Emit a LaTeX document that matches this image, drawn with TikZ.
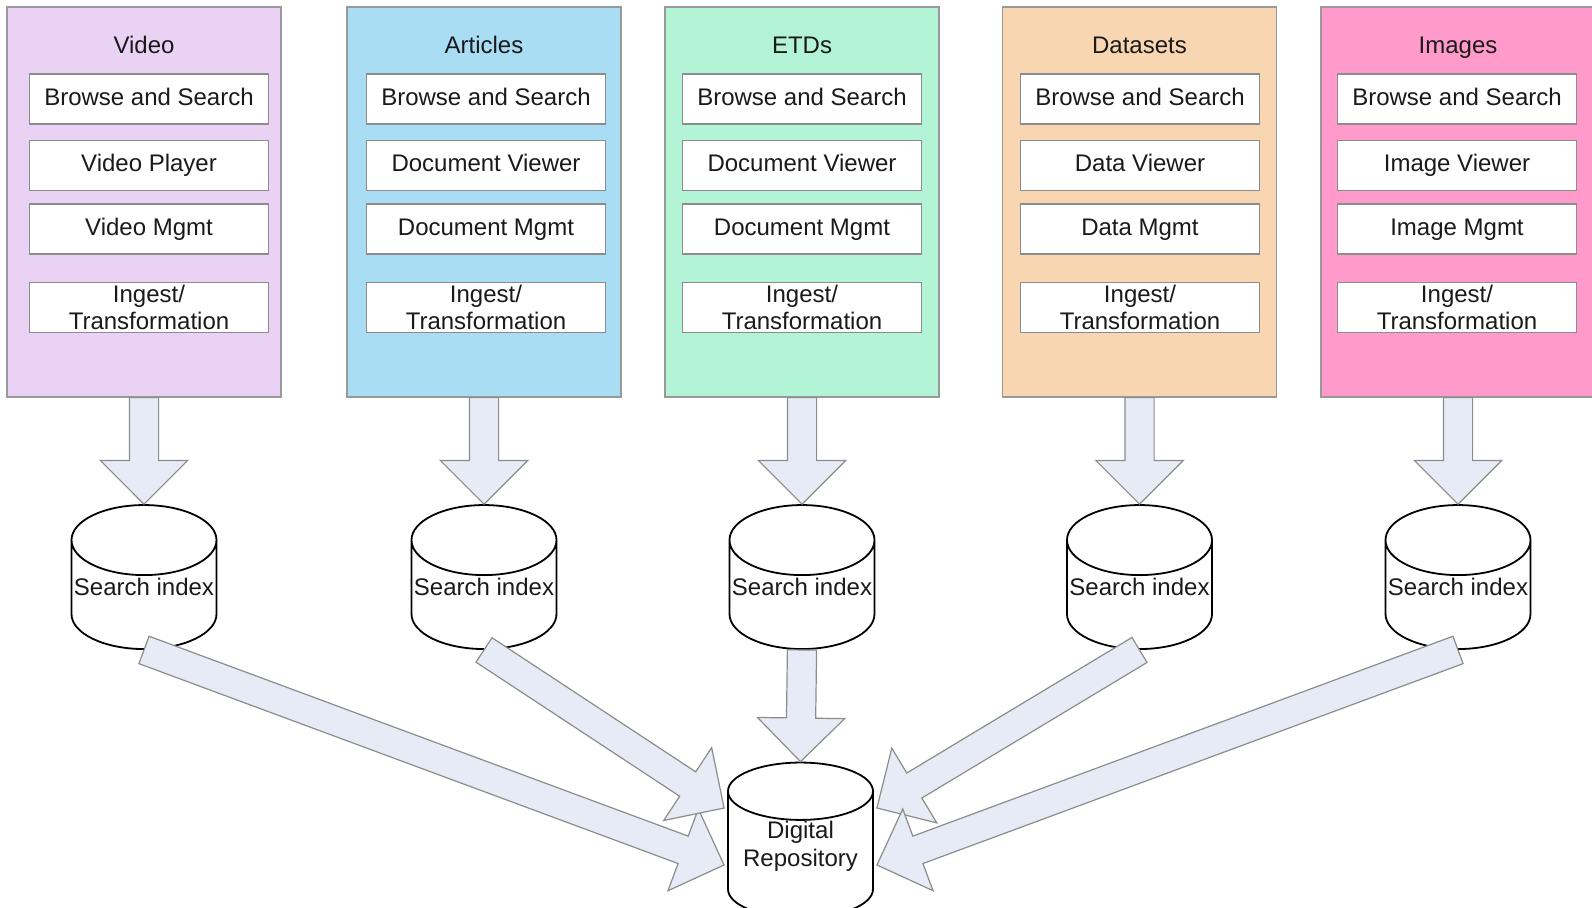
\documentclass[tikz,border=0pt]{standalone}
\usepackage{fontspec}
\setmainfont{Liberation Sans}
\usetikzlibrary{shapes.geometric,shapes.arrows,calc}

\definecolor{videoc}{HTML}{E9D2F4}
\definecolor{artc}{HTML}{A9DDF4}
\definecolor{etdc}{HTML}{B3F4D6}
\definecolor{datac}{HTML}{F8D6B2}
\definecolor{imgc}{HTML}{FF9ACB}
\definecolor{flowc}{HTML}{E6EBF5}
\definecolor{ink}{HTML}{1A1A1A}

\tikzset{
  panel/.style={draw=black!40, line width=0.6pt, minimum width=137pt, minimum height=195pt, inner sep=0pt},
  head/.style={anchor=base, text=ink, font=\fontsize{12}{14}\selectfont},
  part/.style={draw=black!45, line width=0.6pt, fill=white, minimum width=119.5pt, minimum height=25pt,
    inner sep=0pt, align=center, text=ink, font=\fontsize{12}{13.5}\selectfont},
  line/.style={text height=8.6pt, text depth=2.5pt},
  store/.style={cylinder, shape border rotate=90, aspect=0.5, draw, line width=0.9pt, fill=white,
    minimum width=72.5pt, minimum height=72pt, inner sep=0pt, align=center, text=ink,
    font=\fontsize{12}{14}\selectfont},
  flow/.style={single arrow, draw=black!45, line width=0.6pt, fill=flowc, minimum width=43pt,
    single arrow head extend=14.5pt, inner xsep=0pt, inner ysep=7pt, outer sep=0pt, anchor=tail}
}

% block arrow between two points
\newcommand\fatarrow[2]{%
  \path let \p1=($(#2)-(#1)$), \n1={atan2(\y1,\x1)}, \n2={veclen(\x1,\y1)} in
    node[flow, minimum height=\n2, rotate=\n1] at (#1) {};}

\begin{document}
\begin{tikzpicture}[x=0.5pt, y=-0.5pt]
  \useasboundingbox[fill=white] (0,0) rectangle (1592,907);

  % one column per collection
  \foreach \id/\cx/\bx/\col/\title/\view/\mgmt in {
      video/144/149/videoc/Video/Video Player/Video Mgmt,
      art/484/486/artc/Articles/Document Viewer/Document Mgmt,
      etd/802/802/etdc/ETDs/Document Viewer/Document Mgmt,
      data/1139.5/1140/datac/Datasets/Data Viewer/Data Mgmt,
      img/1458/1457/imgc/Images/Image Viewer/Image Mgmt} {
    \node[panel, fill=\col] (\id) at (\cx,202) {};
    \node[head] (\id-title) at (\cx,53) {\title};
    \node[part, line] (\id-browse) at (\bx,99) {Browse and Search};
    \node[part, line] (\id-view) at (\bx,165.5) {\view};
    \node[part, line] (\id-mgmt) at (\bx,229) {\mgmt};
    \node[part] (\id-ingest) at (\bx,307.5) {Ingest/\\Transformation};
    \node[store, text depth=8pt] (\id-index) at (\cx,595) {Search index};
    \fatarrow{\id.south}{\id-index.north}
  }

  \node[store, text depth=11.5pt] (repo) at (800.5,855) {Digital\\Repository};

  % docking points on the repository
  \coordinate (dockNW) at ($(repo.west)+(-3,-47)$);
  \coordinate (dockSW) at ($(repo.west)+(-3,10)$);
  \coordinate (dockNE) at ($(repo.east)+(3,-47)$);
  \coordinate (dockSE) at ($(repo.east)+(3,10)$);

  \fatarrow{etd-index.south}{repo.north}
  \fatarrow{video-index.south}{dockSW}
  \fatarrow{art-index.south}{dockNW}
  \fatarrow{data-index.south}{dockNE}
  \fatarrow{img-index.south}{dockSE}
\end{tikzpicture}
\end{document}
